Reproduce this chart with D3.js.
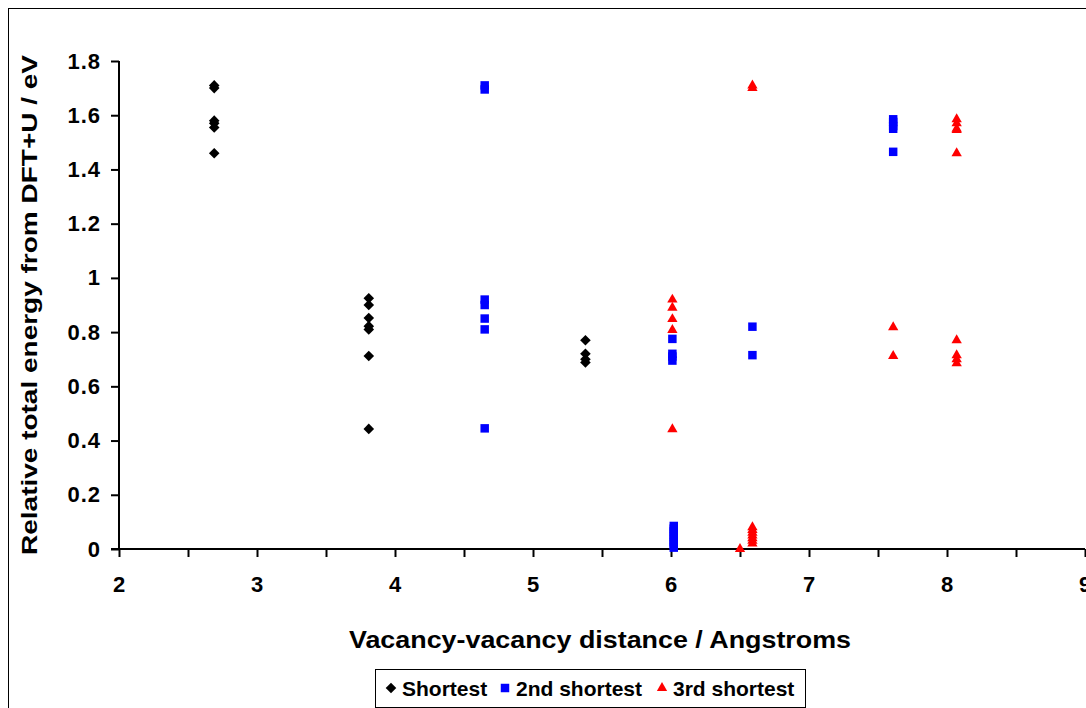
<!DOCTYPE html>
<html>
<head>
<meta charset="utf-8">
<script src="https://cdn.jsdelivr.net/npm/d3@7"></script>
<style>
  body { margin: 0; background: #fff; }
  text { font-family: "Liberation Sans", Arial, sans-serif; font-weight: bold; }
</style>
</head>
<body>
<div id="chart"></div>
<script>
// distances (Angstroms) and relative energies (eV)
const shortestDist = [2.69, 3.81, 5.38];
const shortestE = [
  [1.71, 1.70, 1.58, 1.57, 1.555, 1.46],
  [0.925, 0.90, 0.852, 0.822, 0.81, 0.712, 0.443],
  [0.77, 0.72, 0.70, 0.688]
];
const secondDist = [4.65, 6.01, 6.02, 6.59, 7.61];
const secondE = [
  [1.71, 1.695, 0.92, 0.90, 0.85, 0.81, 0.445],
  [0.775, 0.72, 0.71, 0.695],
  [0.085, 0.075, 0.065, 0.055, 0.045, 0.035, 0.025, 0.015, 0.005],
  [0.82, 0.715],
  [1.585, 1.575, 1.56, 1.55, 1.465]
];
const thirdDist = [6.01, 6.50, 6.59, 7.61, 8.07];
const thirdE = [
  [0.92, 0.89, 0.848, 0.808, 0.442],
  [0.0],
  [1.71, 1.70, 0.08, 0.07, 0.06, 0.05, 0.04, 0.03, 0.02],
  [0.818, 0.712],
  [1.585, 1.57, 1.55, 1.545, 1.46, 0.77, 0.715, 0.70, 0.685]
];
const seriesNames = ["Shortest", "2nd shortest", "3rd shortest"];
const xTicks = [2, 3, 4, 5, 6, 7, 8, 9];
const yTicks = [0, 0.2, 0.4, 0.6, 0.8, 1, 1.2, 1.4, 1.6, 1.8];

const W = 1086, H = 708;
const margin = {top: 61, right: 1, bottom: 159, left: 119};

const svg = d3.select("#chart").append("svg")
    .attr("width", W)
    .attr("height", H);

// outer chart frame
svg.append("rect")
    .attr("x", 8.5).attr("y", 8.5)
    .attr("width", 1200).attr("height", 900)
    .attr("fill", "none").attr("stroke", "#000").attr("stroke-width", 1);

const x = d3.scaleLinear().domain([2, 9]).range([margin.left, W - margin.right]);
const y = d3.scaleLinear().domain([0, 1.8]).range([H - margin.bottom, margin.top]);

const flat = (dist, en) => dist.flatMap((d, i) => en[i].map(e => ({d, e})));
const series = [
  {name: seriesNames[0], pts: flat(shortestDist, shortestE), color: "#000", sym: d3.symbolSquare, size: 56, rot: 45},
  {name: seriesNames[1], pts: flat(secondDist, secondE), color: "#0000ff", sym: d3.symbolSquare, size: 72, rot: 0},
  {name: seriesNames[2], pts: flat(thirdDist, thirdE), color: "#ff0000", sym: d3.symbolTriangle, size: 46, rot: 0}
];

// axes
const xAxis = g => g
    .attr("transform", `translate(0,${y(0)})`)
    .call(d3.axisBottom(x).tickValues(d3.range(2, 9.01, 0.5)).tickSize(8).tickFormat(""))
    .call(g => g.selectAll("line, path").attr("stroke", "#000").attr("stroke-width", 2))
    .call(g => g.select(".domain").attr("d", `M${x(2) - 8},0H${x(9)}`));

const yAxis = g => g
    .attr("transform", `translate(${x(2)},0)`)
    .call(d3.axisLeft(y).tickValues(yTicks).tickSize(8).tickPadding(10).tickFormat(d3.format("")))
    .call(g => g.selectAll("line, path").attr("stroke", "#000").attr("stroke-width", 2))
    .call(g => g.select(".domain").attr("d", `M0,${y(1.8)}V${y(0)}`))
    .call(g => g.selectAll("text").attr("font-size", 22).attr("fill", "#000")
        .attr("letter-spacing", 1)
        .attr("font-family", "Liberation Sans, Arial, sans-serif"));

svg.append("g").call(xAxis);
svg.append("g").call(yAxis);

svg.append("g")
  .selectAll("text")
  .data(xTicks)
  .join("text")
    .attr("x", d => x(d))
    .attr("y", y(0) + 43)
    .attr("text-anchor", "middle")
    .attr("font-size", 22)
    .text(d => d);

// axis titles
svg.append("text")
    .attr("x", 600).attr("y", 648)
    .attr("text-anchor", "middle")
    .attr("font-size", 24)
    .attr("textLength", 502).attr("lengthAdjust", "spacingAndGlyphs")
    .text("Vacancy-vacancy distance / Angstroms");

svg.append("text")
    .attr("transform", "translate(37,305) rotate(-90)")
    .attr("text-anchor", "middle")
    .attr("font-size", 22)
    .attr("textLength", 500).attr("lengthAdjust", "spacingAndGlyphs")
    .text("Relative total energy from DFT+U / eV");

// points
series.forEach(s => {
  svg.append("g")
    .selectAll("path")
    .data(s.pts)
    .join("path")
      .attr("transform", p => `translate(${x(p.d)},${y(p.e)}) rotate(${s.rot})`)
      .attr("d", d3.symbol(s.sym, s.size))
      .attr("fill", s.color);
});

// legend
const legend = svg.append("g");
legend.append("rect")
    .attr("x", 375.5).attr("y", 669.5)
    .attr("width", 430).attr("height", 38)
    .attr("fill", "#fff").attr("stroke", "#000").attr("stroke-width", 1);
const legX = [391, 505, 662];
series.forEach((s, i) => {
  legend.append("path")
      .attr("transform", `translate(${legX[i]},${688}) rotate(${s.rot})`)
      .attr("d", d3.symbol(s.sym, s.size))
      .attr("fill", s.color);
  legend.append("text")
      .attr("x", legX[i] + 11).attr("y", 696)
      .attr("font-size", 21)
      .text(s.name);
});
</script>
</body>
</html>
